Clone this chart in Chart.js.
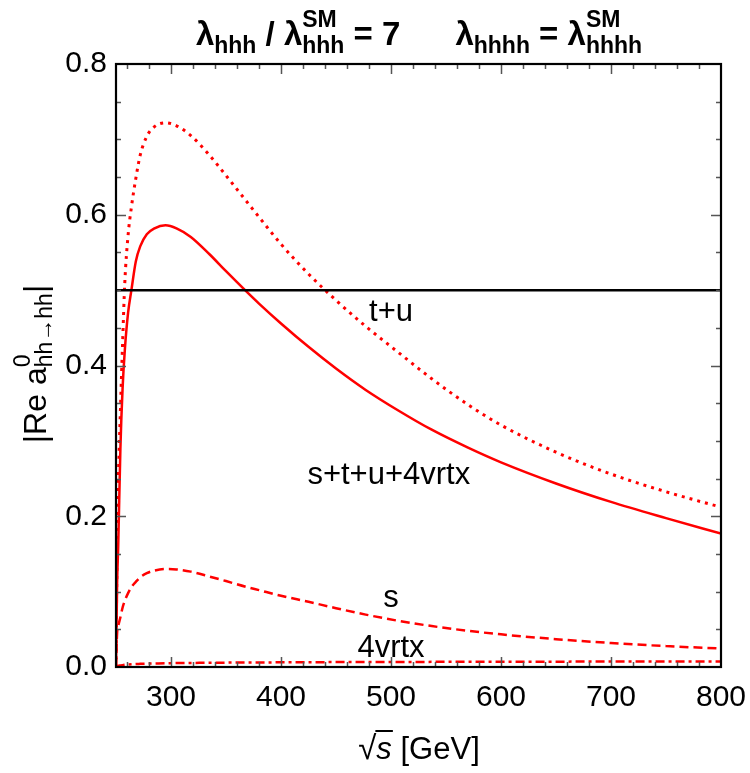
<!DOCTYPE html>
<html><head><meta charset="utf-8">
<script src="https://cdn.jsdelivr.net/npm/chart.js@4/dist/chart.umd.min.js"></script>
<style>html,body{margin:0;padding:0;background:#fff}canvas{display:block}</style>
</head><body>
<canvas id="c" width="750" height="773"></canvas>
<script>
// ---- data ----
const sqrtS = [250, 251, 252, 254, 256, 258, 261, 264, 268, 272, 278, 285, 295, 305, 318, 335, 350, 368, 380, 400, 425, 450, 477, 507, 537, 570, 600, 650, 700, 750, 800];
const total = [0, 0.11, 0.16, 0.29, 0.37, 0.42, 0.47, 0.50, 0.538, 0.558, 0.574, 0.582, 0.586, 0.582, 0.5706, 0.5476, 0.5251, 0.499, 0.4822, 0.4558, 0.4248, 0.396, 0.3676, 0.340, 0.3148, 0.291, 0.2715, 0.2435, 0.219, 0.1975, 0.177];
const tPlusU = [0, 0.16, 0.24, 0.34, 0.43, 0.51, 0.573, 0.61, 0.648, 0.679, 0.704, 0.717, 0.722, 0.718, 0.705, 0.679, 0.652, 0.619, 0.597, 0.561, 0.5215, 0.4865, 0.452, 0.417, 0.3825, 0.348, 0.321, 0.285, 0.256, 0.2325, 0.212];
const sOnly = [0, 0.045, 0.054, 0.066, 0.079, 0.088, 0.098, 0.106, 0.113, 0.119, 0.1245, 0.128, 0.130, 0.1295, 0.1265, 0.120, 0.114, 0.1065, 0.102, 0.0945, 0.0865, 0.078, 0.0695, 0.0612, 0.0543, 0.048, 0.0433, 0.0369, 0.0318, 0.0277, 0.0245];
const vrtx4 = [0, 0.001, 0.0015, 0.002, 0.0025, 0.003, 0.0033, 0.0036, 0.004, 0.0042, 0.0045, 0.0047, 0.005, 0.0052, 0.0054, 0.0056, 0.0058, 0.006, 0.006, 0.0062, 0.0064, 0.0065, 0.0066, 0.0067, 0.0068, 0.0069, 0.007, 0.0071, 0.0072, 0.0072, 0.0073];
const boundX = [250, 800];
const boundY = [0.5, 0.5];
const xTickValues = [300, 400, 500, 600, 700, 800];
const yTickValues = [0, 0.2, 0.4, 0.6, 0.8];
const curveNames = ['t+u', 's+t+u+4vrtx', 's', '4vrtx'];
const curveNameAt = [[500, 0.459], [498, 0.243], [500, 0.080], [500, 0.0135]];

const FONT = '"Liberation Sans", Arial, Helvetica, sans-serif';
const fnt = (size, w) => (w ? w + ' ' : '') + size + 'px ' + FONT;
const pts = (xs, ys) => xs.map((x, i) => ({x: x, y: ys[i]}));

function richWidth(ctx, parts) {
  let w = 0;
  for (const p of parts) {
    ctx.font = fnt(p.size, p.weight);
    p.w = p.stack ? Math.max(ctx.measureText(p.sup).width, ctx.measureText(p.sub).width)
                  : ctx.measureText(p.t).width;
    w += p.w;
  }
  return w;
}
function drawRich(ctx, parts, cx, base) {
  const w = richWidth(ctx, parts);
  let x = cx - w / 2;
  ctx.textAlign = 'left';
  ctx.textBaseline = 'alphabetic';
  const pos = [];
  for (const p of parts) {
    ctx.font = fnt(p.size, p.weight);
    if (p.stack) {
      ctx.fillText(p.sup, x, base + p.supDy);
      ctx.fillText(p.sub, x, base + p.subDy);
    } else {
      ctx.fillText(p.t, x, base + (p.dy || 0));
    }
    pos.push([x, p.w]);
    x += p.w;
  }
  return pos;
}

const framePlugin = {
  id: 'frame',
  afterDraw(chart) {
    const ctx = chart.ctx;
    const a = chart.chartArea;
    const xs = chart.scales.x, ys = chart.scales.y;
    ctx.save();
    // ticks (inward, all four sides)
    ctx.strokeStyle = '#555';
    ctx.lineWidth = 1.5;
    ctx.beginPath();
    for (let v = 260; v < 800; v += 20) {
      const px = Math.round(xs.getPixelForValue(v)) + 0.5;
      const L = (v % 100 === 0) ? 10 : 5;
      ctx.moveTo(px, a.bottom); ctx.lineTo(px, a.bottom - L);
      ctx.moveTo(px, a.top); ctx.lineTo(px, a.top + L);
    }
    for (let k = 1; k < 16; k++) {
      const v = k * 0.05;
      const py = Math.round(ys.getPixelForValue(v)) + 0.5;
      const L = (k % 4 === 0) ? 10 : 5;
      ctx.moveTo(a.left, py); ctx.lineTo(a.left + L, py);
      ctx.moveTo(a.right, py); ctx.lineTo(a.right - L, py);
    }
    ctx.stroke();
    // frame
    ctx.strokeStyle = '#000';
    ctx.lineWidth = 2.2;
    ctx.strokeRect(a.left, a.top, a.right - a.left, a.bottom - a.top);

    ctx.fillStyle = '#000';
    // curve names
    ctx.font = fnt(31);
    ctx.textAlign = 'center';
    ctx.textBaseline = 'alphabetic';
    curveNames.forEach((n, i) => {
      ctx.fillText(n, xs.getPixelForValue(curveNameAt[i][0]), ys.getPixelForValue(curveNameAt[i][1]));
    });

    // title
    const B = 33, S = 23, W = 'bold';
    drawRich(ctx, [
      {t: 'λ', size: B, weight: W}, {t: 'hhh', size: S, weight: W, dy: 8},
      {t: ' / ', size: B, weight: W}, {t: 'λ', size: B, weight: W},
      {stack: true, sup: 'SM', sub: 'hhh', size: S, weight: W, supDy: -18, subDy: 8},
      {t: ' = 7', size: B, weight: W}, {t: '      ', size: B, weight: W},
      {t: 'λ', size: B, weight: W}, {t: 'hhhh', size: S, weight: W, dy: 8},
      {t: ' = ', size: B, weight: W}, {t: 'λ', size: B, weight: W},
      {stack: true, sup: 'SM', sub: 'hhhh', size: S, weight: W, supDy: -18, subDy: 8}
    ], 419, 45);

    // x axis title: sqrt(s) [GeV]
    const xpos = drawRich(ctx, [
      {t: '√', size: 33}, {t: 's', size: 31, weight: 'italic'}, {t: ' [GeV]', size: 31}
    ], 419, 759);
    ctx.strokeStyle = '#000';
    ctx.lineWidth = 2;
    ctx.beginPath();
    ctx.moveTo(xpos[0][0] + xpos[0][1] - 1, 731);
    ctx.lineTo(xpos[1][0] + xpos[1][1] + 1, 731);
    ctx.stroke();

    // y axis title (rotated)
    ctx.translate(46, 364);
    ctx.rotate(-Math.PI / 2);
    drawRich(ctx, [
      {t: '|Re a', size: 32},
      {stack: true, sup: '0', sub: 'hh→hh', size: 23, supDy: -16, subDy: 6},
      {t: '|', size: 32}
    ], 0, 0);
    ctx.restore();
  }
};

new Chart(document.getElementById('c').getContext('2d'), {
  type: 'line',
  data: {
    datasets: [
      {data: pts(boundX, boundY), borderColor: '#000', borderWidth: 2.5},
      {data: pts(sqrtS, total), borderColor: '#ff0000', borderWidth: 2.5},
      {data: pts(sqrtS, tPlusU), borderColor: '#ff0000', borderWidth: 3, borderDash: [3, 5]},
      {data: pts(sqrtS, sOnly), borderColor: '#ff0000', borderWidth: 2.5, borderDash: [9, 5]},
      {data: pts(sqrtS, vrtx4), borderColor: '#ff0000', borderWidth: 2.5, borderDash: [9, 4, 3, 4]}
    ]
  },
  options: {
    responsive: false,
    animation: false,
    layout: {padding: {top: 64, right: 29, left: 0, bottom: 0}},
    elements: {
      point: {radius: 0},
      line: {cubicInterpolationMode: 'monotone', borderCapStyle: 'butt', fill: false}
    },
    plugins: {legend: {display: false}, tooltip: {enabled: false}},
    scales: {
      x: {
        type: 'linear', min: 250, max: 800,
        grid: {display: false, drawTicks: false}, border: {display: false},
        afterBuildTicks: s => { s.ticks = xTickValues.map(v => ({value: v})); },
        afterFit: s => { s.height = 106; s.paddingLeft = 0; s.paddingRight = 0; },
        ticks: {font: {family: FONT, size: 30}, color: '#000', padding: 13, maxRotation: 0, autoSkip: false,
                callback: v => String(v)}
      },
      y: {
        type: 'linear', min: 0, max: 0.8,
        grid: {display: false, drawTicks: false}, border: {display: false},
        afterBuildTicks: s => { s.ticks = yTickValues.map(v => ({value: v})); },
        afterFit: s => { s.width = 116; s.paddingTop = 0; s.paddingBottom = 0; },
        ticks: {font: {family: FONT, size: 30}, color: '#000', padding: 9, autoSkip: false,
                callback: v => Number(v).toFixed(1)}
      }
    }
  },
  plugins: [framePlugin]
});
</script>
</body></html>
